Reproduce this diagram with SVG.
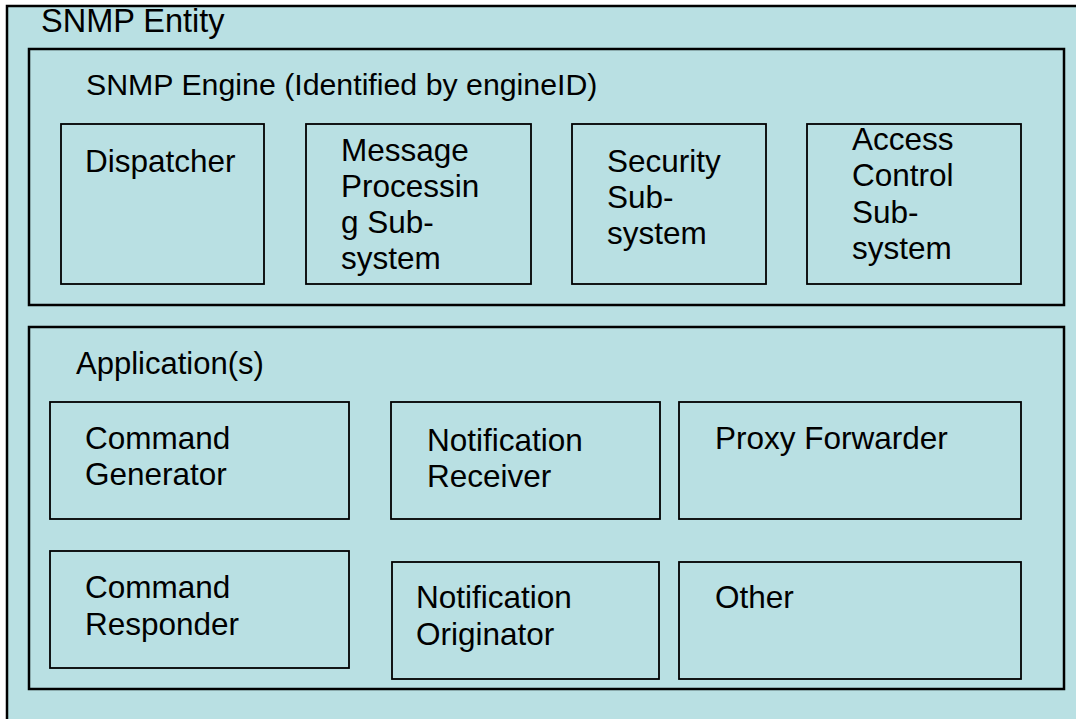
<svg xmlns="http://www.w3.org/2000/svg" width="1076" height="719" viewBox="0 0 1076 719">
  <style>
    .box { fill: #B9E0E3; stroke: #000; stroke-width: 1.8; }
    .frame { fill: #B9E0E3; stroke: #000; stroke-width: 2.5; }
    .lbl { font-family: "Liberation Sans", Arial, sans-serif; font-size: 31.5px; fill: #000; }
  </style>
  <rect x="0" y="0" width="1076" height="719" fill="#fff"/>

  <!-- SNMP entity (frame runs past the right and bottom edges) -->
  <g id="entity">
    <rect class="frame" x="7" y="6" width="1090" height="730"/>
    <text class="lbl" x="41" y="32" style="font-size:32.5px">SNMP Entity</text>
  </g>

  <!-- SNMP engine and its subsystems -->
  <g id="engine">
    <rect class="frame" x="29" y="49" width="1035" height="256"/>
    <text class="lbl" x="86" y="95" style="font-size:30.3px">SNMP Engine (Identified by engineID)</text>
  </g>
  <g id="dispatcher">
    <rect class="box" x="61" y="124" width="203" height="160"/>
    <text class="lbl" x="85" y="172">Dispatcher</text>
  </g>
  <g id="message-processing">
    <rect class="box" x="306" y="124" width="225" height="160"/>
    <text class="lbl" x="341" y="161">Message</text>
    <text class="lbl" x="341" y="197">Processin</text>
    <text class="lbl" x="341" y="233">g Sub-</text>
    <text class="lbl" x="341" y="269">system</text>
  </g>
  <g id="security">
    <rect class="box" x="572" y="124" width="194" height="160"/>
    <text class="lbl" x="607" y="172">Security</text>
    <text class="lbl" x="607" y="208">Sub-</text>
    <text class="lbl" x="607" y="244">system</text>
  </g>
  <g id="access-control">
    <rect class="box" x="807" y="124" width="214" height="160"/>
    <text class="lbl" x="852" y="150">Access</text>
    <text class="lbl" x="852" y="186">Control</text>
    <text class="lbl" x="852" y="223">Sub-</text>
    <text class="lbl" x="852" y="259">system</text>
  </g>

  <!-- Applications -->
  <g id="applications">
    <rect class="frame" x="29" y="327" width="1035" height="362"/>
    <text class="lbl" x="76" y="374" style="font-size:31px">Application(s)</text>
  </g>
  <g id="command-generator">
    <rect class="box" x="50" y="402" width="299" height="117"/>
    <text class="lbl" x="85" y="449">Command</text>
    <text class="lbl" x="85" y="485">Generator</text>
  </g>
  <g id="notification-receiver">
    <rect class="box" x="391" y="402" width="269" height="117"/>
    <text class="lbl" x="427" y="451">Notification</text>
    <text class="lbl" x="427" y="487">Receiver</text>
  </g>
  <g id="proxy-forwarder">
    <rect class="box" x="679" y="402" width="342" height="117"/>
    <text class="lbl" x="715" y="449">Proxy Forwarder</text>
  </g>
  <g id="command-responder">
    <rect class="box" x="50" y="551" width="299" height="117"/>
    <text class="lbl" x="85" y="598">Command</text>
    <text class="lbl" x="85" y="635">Responder</text>
  </g>
  <g id="notification-originator">
    <rect class="box" x="392" y="562" width="267" height="117"/>
    <text class="lbl" x="416" y="608">Notification</text>
    <text class="lbl" x="416" y="645">Originator</text>
  </g>
  <g id="other">
    <rect class="box" x="679" y="562" width="342" height="117"/>
    <text class="lbl" x="715" y="608">Other</text>
  </g>

  <g id="connectors"/>
</svg>
